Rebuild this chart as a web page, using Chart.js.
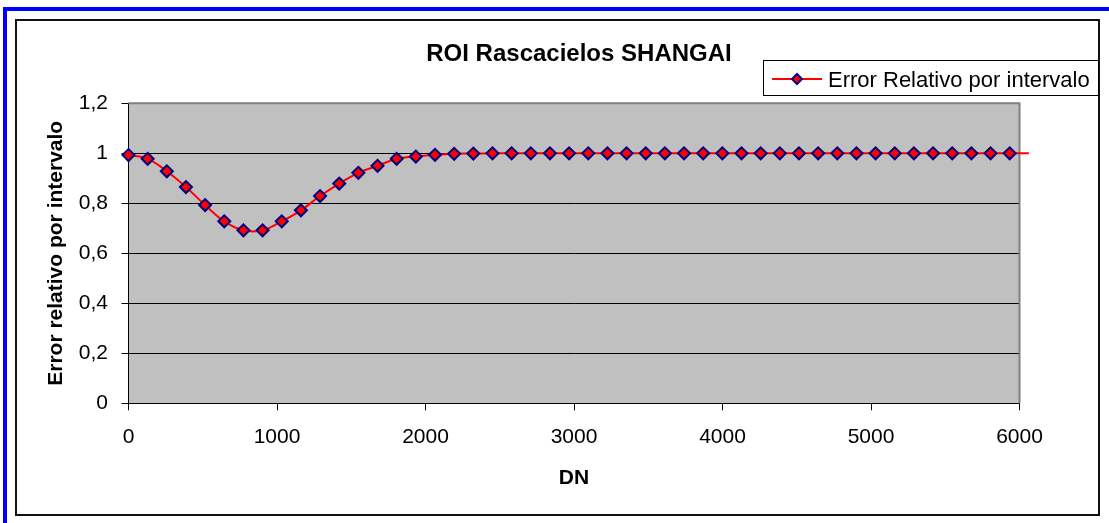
<!DOCTYPE html>
<html>
<head>
<meta charset="utf-8">
<script src="https://cdn.jsdelivr.net/npm/chart.js@4/dist/chart.umd.min.js"></script>
<style>
  html, body { margin:0; padding:0; background:#fff; width:1109px; height:523px; overflow:hidden; }
  #blue { position:absolute; left:3px; top:7px; width:1200px; height:600px; border-left:4px solid #0000FF; border-top:4px solid #0000FF; }
  #frame { position:absolute; left:15px; top:19px; width:1085px; height:497px; box-sizing:border-box; border:2px solid #111; }
  canvas { position:absolute; left:0; top:0; }
</style>
</head>
<body>
<div id="blue"></div>
<div id="frame"></div>
<canvas id="c" width="1109" height="523"></canvas>
<script>
const chartTitle = 'ROI Rascacielos SHANGAI';
const seriesName = 'Error Relativo por intervalo';
const xAxisTitle = 'DN';
const yAxisTitle = 'Error relativo por intervalo';

const dnValues = [0, 129, 258, 387, 516, 645, 774, 903, 1032, 1161, 1290, 1419, 1548, 1677, 1806, 1935,
  2064, 2193, 2322, 2451, 2580, 2709, 2838, 2967, 3096, 3225, 3354, 3483, 3612, 3741, 3870, 3999,
  4128, 4257, 4386, 4515, 4644, 4773, 4902, 5031, 5160, 5289, 5418, 5547, 5676, 5805, 5934, 6063];
const errorValues = [0.993, 0.978, 0.928, 0.865, 0.793, 0.728, 0.692, 0.692, 0.728, 0.772, 0.829, 0.879,
  0.922, 0.950, 0.978, 0.987, 0.994, 0.998, 0.999, 1, 1, 1, 1, 1, 1, 1, 1, 1, 1, 1, 1, 1,
  1, 1, 1, 1, 1, 1, 1, 1, 1, 1, 1, 1, 1, 1, 1, 1];

const xTickValues = [0, 1000, 2000, 3000, 4000, 5000, 6000];
const xTickLabels = ['0', '1000', '2000', '3000', '4000', '5000', '6000'];
const yTickValues = [0, 0.2, 0.4, 0.6, 0.8, 1, 1.2];
const yTickLabels = ['0', '0,2', '0,4', '0,6', '0,8', '1', '1,2'];

const FONT = "'Liberation Sans', Arial, sans-serif";

const decor = {
  id: 'decor',
  beforeDraw(chart) {
    const {ctx, chartArea: a} = chart;
    ctx.save();
    ctx.fillStyle = '#C0C0C0';
    ctx.fillRect(a.left, a.top, a.right - a.left, a.bottom - a.top);
    ctx.restore();
  },
  beforeDatasetsDraw(chart) {
    const {ctx, chartArea: a} = chart;
    ctx.save();
    ctx.strokeStyle = '#808080';
    ctx.lineWidth = 2;
    ctx.beginPath();
    ctx.moveTo(a.left, a.top);
    ctx.lineTo(a.right, a.top);
    ctx.lineTo(a.right, a.bottom);
    ctx.stroke();
    ctx.restore();
  },
  afterDraw(chart) {
    const {ctx} = chart;
    ctx.save();
    ctx.fillStyle = '#000';
    ctx.font = "bold 24px " + FONT;
    ctx.textAlign = 'center';
    ctx.textBaseline = 'alphabetic';
    ctx.fillText(chartTitle, 579, 61);
    ctx.fillStyle = '#fff';
    ctx.fillRect(763, 60, 335, 35);
    ctx.strokeStyle = '#000';
    ctx.lineWidth = 1;
    ctx.strokeRect(763.5, 60.5, 335, 35);
    ctx.strokeStyle = '#FF0000';
    ctx.lineWidth = 2;
    ctx.beginPath();
    ctx.moveTo(772, 79);
    ctx.lineTo(822, 79);
    ctx.stroke();
    ctx.fillStyle = '#FF0000';
    ctx.strokeStyle = '#000080';
    ctx.lineWidth = 2;
    ctx.beginPath();
    ctx.moveTo(797, 74);
    ctx.lineTo(802, 79);
    ctx.lineTo(797, 84);
    ctx.lineTo(792, 79);
    ctx.closePath();
    ctx.fill();
    ctx.stroke();
    ctx.fillStyle = '#000';
    ctx.font = "22px " + FONT;
    ctx.textAlign = 'left';
    ctx.fillText(seriesName, 828, 87);
    ctx.restore();
  }
};

new Chart(document.getElementById('c'), {
  type: 'line',
  data: {
    datasets: [{
      label: seriesName,
      data: dnValues.map((x, i) => ({x: x, y: errorValues[i]})),
      borderColor: '#FF0000',
      borderWidth: 2,
      backgroundColor: '#FF0000',
      pointStyle: 'rectRot',
      pointRadius: ctx => (ctx.raw && ctx.raw.x > 6000) ? 0 : 6,
      pointBackgroundColor: '#FF0000',
      pointBorderColor: '#000080',
      pointBorderWidth: 2,
      tension: 0.4,
      clip: false
    }]
  },
  options: {
    responsive: false,
    animation: false,
    events: [],
    layout: { padding: { left: 0, right: 89.5, top: 103.3, bottom: 0 } },
    plugins: { legend: { display: false }, title: { display: false }, tooltip: { enabled: false } },
    scales: {
      x: {
        type: 'linear',
        min: 0, max: 6000,
        afterFit: s => { s.height = 119.7; },
        afterBuildTicks: s => { s.ticks = xTickValues.map(v => ({value: v})); },
        ticks: {
          callback: (v, i) => xTickLabels[i],
          font: { family: FONT, size: 21 },
          color: '#000',
          padding: 14,
          maxRotation: 0,
          autoSkip: false
        },
        grid: { drawOnChartArea: false, drawTicks: true, tickLength: 7, color: '#000', lineWidth: 1 },
        border: { display: true, color: '#000', width: 1 },
        title: { display: true, text: xAxisTitle, color: '#000', font: { family: FONT, size: 21, weight: 'bold' }, padding: { top: 0, bottom: 32 } }
      },
      y: {
        min: 0, max: 1.2,
        afterFit: s => { s.width = 128.5; },
        afterBuildTicks: s => { s.ticks = yTickValues.map(v => ({value: v})); },
        ticks: {
          callback: (v, i) => yTickLabels[i],
          font: { family: FONT, size: 21 },
          color: '#000',
          padding: 13.5,
          autoSkip: false
        },
        grid: { drawOnChartArea: true, drawTicks: true, tickLength: 7, color: '#000', lineWidth: 1 },
        border: { display: true, color: '#000', width: 1 },
        title: { display: true, text: yAxisTitle, color: '#000', font: { family: FONT, size: 21, weight: 'bold' }, padding: { top: 44, bottom: 0 } }
      }
    }
  },
  plugins: [decor]
});
</script>
</body>
</html>
